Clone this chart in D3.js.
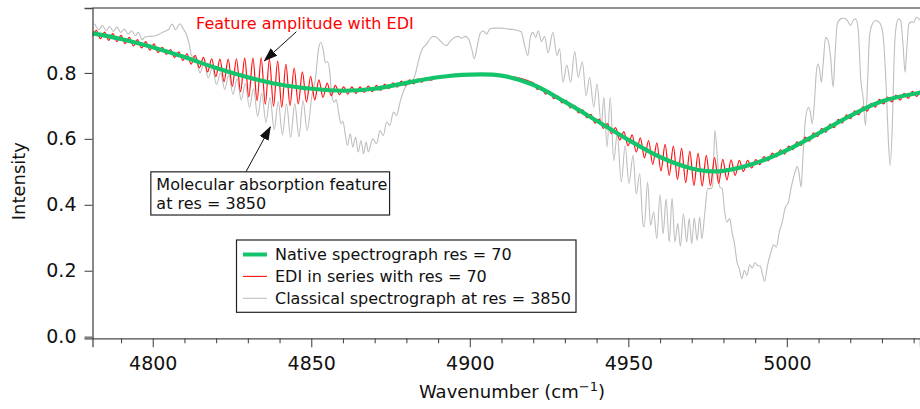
<!DOCTYPE html>
<html>
<head>
<meta charset="utf-8">
<script src="https://cdn.jsdelivr.net/npm/d3@7"></script>
<style>
  html, body { margin: 0; padding: 0; background: #fff; }
  svg { display: block; }
  text { font-family: "DejaVu Sans", Verdana, sans-serif; }
</style>
</head>
<body>
<svg id="chart" width="920" height="409"></svg>
<script>
// ---- data: [wavenumber (cm^-1), intensity] ----
const nativeRes = [
  [4781,0.920],[4790,0.903],[4800,0.878],[4810,0.848],[4820,0.815],[4830,0.787],
  [4840,0.765],[4850,0.752],[4860,0.746],[4870,0.752],[4880,0.770],[4890,0.787],
  [4900,0.795],[4910,0.792],[4920,0.764],[4930,0.712],[4940,0.655],[4950,0.597],
  [4960,0.545],[4970,0.510],[4975,0.502],[4980,0.503],[4990,0.526],[5000,0.566],
  [5010,0.617],[5020,0.670],[5030,0.714],[5042,0.740]
];

const ediSeries = [
  [4780.9,0.909],[4782.2,0.929],[4783.5,0.904],[4784.8,0.924],[4786.1,0.899],[4787.4,0.919],
  [4788.7,0.895],[4790.0,0.914],[4791.3,0.889],[4792.6,0.908],[4793.9,0.882],[4795.2,0.901],
  [4796.5,0.876],[4797.8,0.895],[4799.1,0.869],[4800.4,0.888],[4801.7,0.862],
  [4803.0,0.878],[4804.3,0.856],[4805.6,0.871],[4806.9,0.847],[4808.2,0.864],[4809.5,0.838],
  [4810.8,0.858],[4812.1,0.827],[4813.4,0.853],[4814.7,0.815],[4816.0,0.847],[4817.3,0.803],
  [4818.6,0.843],[4819.9,0.789],[4821.2,0.842],[4822.5,0.774],[4823.8,0.842],[4825.1,0.759],
  [4826.4,0.843],[4827.7,0.743],[4829.0,0.845],[4830.3,0.727],[4831.6,0.845],[4832.9,0.716],
  [4834.2,0.846],[4835.5,0.705],[4836.8,0.842],[4838.1,0.699],[4839.4,0.836],[4840.7,0.696],
  [4842.0,0.826],[4843.3,0.701],[4844.6,0.815],[4845.9,0.706],[4847.2,0.803],[4848.5,0.712],
  [4849.8,0.790],[4851.1,0.718],[4852.4,0.779],[4853.7,0.726],[4855.0,0.769],[4856.3,0.731],
  [4857.6,0.762],[4858.9,0.734],[4860.2,0.758],[4861.5,0.736],[4862.8,0.758],[4864.1,0.738],
  [4865.4,0.758],[4866.7,0.741],[4868.0,0.760],[4869.3,0.743],[4870.6,0.762],[4871.9,0.747],
  [4873.2,0.766],[4874.5,0.752],[4875.8,0.770],[4877.1,0.757],[4878.4,0.775],[4879.7,0.762],
  [4881.0,0.779],[4882.3,0.767],[4883.6,0.782],[4884.9,0.772],[4886.2,0.785],[4887.5,0.778],
  [4890,0.787],[4900,0.795],[4910,0.792],
  [4920.0,0.770],[4921.3,0.750],[4922.6,0.757],[4923.9,0.736],[4925.2,0.744],[4926.5,0.722],
  [4927.8,0.730],[4929.1,0.709],[4930.4,0.717],[4931.7,0.694],[4933.0,0.702],[4934.3,0.679],
  [4935.6,0.688],[4936.9,0.664],[4938.2,0.674],[4939.5,0.648],[4940.8,0.660],[4942.1,0.632],
  [4943.4,0.646],[4944.7,0.616],[4946.0,0.634],[4947.3,0.597],[4948.6,0.622],[4949.9,0.579],
  [4951.2,0.612],[4952.5,0.560],[4953.8,0.603],[4955.1,0.542],[4956.4,0.595],[4957.7,0.522],
  [4959.0,0.588],[4960.3,0.503],[4961.6,0.583],[4962.9,0.489],[4964.2,0.578],[4965.5,0.477],
  [4966.8,0.571],[4968.1,0.467],[4969.4,0.562],[4970.7,0.459],[4972.0,0.556],[4973.3,0.457],
  [4974.6,0.550],[4975.9,0.458],[4977.2,0.543],[4978.5,0.465],[4979.8,0.538],[4981.1,0.475],
  [4982.4,0.536],[4983.7,0.489],[4985.0,0.535],[4986.3,0.501],[4987.6,0.535],[4988.9,0.512],
  [4990.2,0.537],[4991.5,0.522],[4992.8,0.546],[4994.1,0.533],[4995.4,0.557],[4996.7,0.545],
  [4998.0,0.567],[4999.3,0.554],[5000.6,0.578],[5001.9,0.567],[5003.2,0.591],[5004.5,0.580],
  [5005.8,0.605],[5007.1,0.593],[5008.4,0.618],[5009.7,0.607],[5011.0,0.631],[5012.3,0.620],
  [5013.6,0.645],[5014.9,0.634],[5016.2,0.659],[5017.5,0.648],[5018.8,0.673],[5020.1,0.661],
  [5021.4,0.685],[5022.7,0.673],[5024.0,0.697],[5025.3,0.684],[5026.6,0.708],[5027.9,0.696],
  [5029.2,0.720],[5030.5,0.706],[5031.8,0.727],[5033.1,0.712],[5034.4,0.733],[5035.7,0.718],
  [5037.0,0.738],[5038.3,0.723],[5039.6,0.744],[5040.9,0.729],[5042.2,0.749]
];

const classicalSeries = [
  [4781.7,0.949],[4783.0,0.931],[4784.1,0.944],[4785.3,0.928],[4786.4,0.941],[4787.6,0.926],
  [4788.7,0.939],[4789.9,0.923],[4791.0,0.933],[4792.3,0.918],[4793.3,0.928],[4794.6,0.913],
  [4795.4,0.923],[4796.7,0.901],[4797.5,0.909],[4799.3,0.911],[4800.9,0.913],[4801.9,0.917],
  [4803.0,0.923],[4804.0,0.927],[4805.1,0.933],[4806.1,0.948],[4807.2,0.931],[4808.5,0.949],
  [4809.5,0.936],[4810.7,0.915],[4811.6,0.883],[4812.2,0.853],
  [4813.6,0.845],[4814.9,0.800],[4816.2,0.830],[4817.5,0.785],[4818.8,0.815],[4820.1,0.765],
  [4821.4,0.800],[4822.7,0.750],[4824.0,0.795],[4825.3,0.735],[4826.6,0.782],[4827.9,0.718],
  [4829.2,0.768],[4830.5,0.695],[4831.8,0.752],[4833.1,0.668],[4834.4,0.738],[4835.7,0.650],
  [4837.0,0.725],[4838.3,0.628],[4839.6,0.713],[4840.9,0.612],[4842.2,0.706],[4843.5,0.605],
  [4844.8,0.707],[4846.1,0.607],[4847.4,0.716],[4848.7,0.625],
  [4850.2,0.731],[4851.3,0.782],[4852.3,0.873],[4853.0,0.893],[4853.9,0.863],[4854.4,0.832],
  [4855.1,0.834],[4855.8,0.807],[4856.5,0.731],[4857.2,0.711],[4857.9,0.719],[4858.6,0.681],
  [4859.4,0.646],[4860.0,0.653],[4860.7,0.615],[4861.4,0.580],[4862.3,0.615],[4863.1,0.575],
  [4864.0,0.605],[4864.8,0.560],[4865.7,0.595],[4866.5,0.555],[4867.3,0.590],[4868.0,0.560],
  [4869.4,0.600],[4870.6,0.585],[4871.7,0.625],[4872.7,0.610],[4873.8,0.651],[4874.8,0.641],
  [4875.9,0.681],[4876.9,0.671],[4878.0,0.711],[4879.0,0.742],[4880.1,0.762],[4881.1,0.767],
  [4882.7,0.792],[4883.7,0.832],[4884.8,0.868],[4886.4,0.888],[4887.4,0.903],[4888.5,0.911],
  [4889.5,0.908],[4890.6,0.898],[4891.6,0.888],[4892.7,0.883],[4893.7,0.895],[4895.3,0.908],
  [4896.4,0.911],[4897.4,0.905],[4898.5,0.911],[4899.5,0.905],[4900.6,0.873],[4901.4,0.843],
  [4902.3,0.878],[4903.2,0.918],[4904.2,0.928],[4905.3,0.918],[4906.3,0.933],[4907.9,0.936],
  [4910.0,0.936],[4911.5,0.934],[4914.1,0.931],[4916.2,0.925],[4917.3,0.883],[4918.3,0.853],
  [4919.1,0.908],[4919.9,0.923],[4920.8,0.908],[4921.6,0.928],[4922.6,0.895],[4923.6,0.911],
  [4924.7,0.861],[4926.2,0.923],[4927.5,0.853],[4928.3,0.873],[4929.4,0.772],[4930.6,0.824],
  [4931.8,0.772],[4933.1,0.865],[4934.2,0.787],[4935.5,0.834],[4936.7,0.731],[4937.8,0.787],
  [4939.1,0.696],[4940.1,0.767],[4941.5,0.641],[4942.3,0.726],[4943.3,0.575],[4944.3,0.726],
  [4945.4,0.534],[4946.5,0.615],[4947.8,0.469],[4949.0,0.580],[4950.2,0.464],[4951.5,0.550],
  [4952.5,0.433],[4953.6,0.494],[4954.6,0.343],[4955.0,0.333],[4956.1,0.469],[4957.0,0.338],
  [4958.0,0.378],[4959.0,0.297],[4960.0,0.430],[4961.0,0.312],[4961.9,0.418],[4962.9,0.287],
  [4963.8,0.420],[4964.7,0.287],[4965.6,0.343],[4966.4,0.275],[4967.4,0.373],[4968.4,0.287],
  [4969.2,0.358],[4970.0,0.282],[4970.8,0.360],[4971.7,0.292],[4972.5,0.363],[4973.2,0.297],
  [4974.1,0.373],[4975.0,0.449],[4976.1,0.449],[4976.6,0.459],[4977.3,0.625],[4978.1,0.540],
  [4978.8,0.454],[4979.6,0.449],[4980.4,0.378],[4981.1,0.348],[4982.0,0.358],[4982.7,0.317],
  [4983.4,0.287],[4984.3,0.226],[4985.0,0.206],[4985.8,0.176],[4986.6,0.201],[4987.4,0.186],
  [4988.3,0.218],[4989.1,0.208],[4989.9,0.224],[4990.8,0.216],[4991.6,0.214],[4992.4,0.186],
  [4993.0,0.168],[4993.9,0.216],[4995.0,0.257],[4995.8,0.279],[4996.7,0.272],[4997.6,0.317],
  [4998.6,0.350],[4999.4,0.388],[5000.5,0.408],[5001.5,0.459],[5002.6,0.499],[5003.3,0.517],
  [5003.8,0.499],[5004.5,0.454],[5005.1,0.550],[5005.9,0.661],[5006.8,0.696],[5007.4,0.681],
  [5008.0,0.646],[5008.7,0.711],[5009.3,0.802],[5009.8,0.827],[5010.3,0.812],[5010.9,0.772],
  [5011.5,0.832],[5012.2,0.908],[5013.0,0.898],[5013.8,0.848],[5014.6,0.757],[5015.2,0.853],
  [5015.9,0.949],[5017.0,0.964],[5018.0,0.966],[5019.1,0.959],[5020.1,0.944],[5020.9,0.959],
  [5021.7,0.964],[5022.5,0.933],[5023.3,0.782],[5024.1,0.721],[5024.8,0.641],[5025.5,0.782],
  [5026.1,0.913],[5027.0,0.949],[5028.0,0.959],[5029.1,0.954],[5029.9,0.939],[5030.6,0.888],
  [5031.4,0.742],[5032.0,0.600],[5032.6,0.519],[5033.3,0.651],[5033.8,0.832],[5034.3,0.928],
  [5035.2,0.964],[5035.9,0.959],[5036.6,0.893],[5037.3,0.802],[5037.9,0.883],[5038.5,0.949],
  [5039.4,0.955],[5040.1,0.954],[5040.8,0.969],[5041.7,0.964],[5042.1,0.959]
];

const xMajorTicks = [4800, 4850, 4900, 4950, 5000];
const xMinorTicks = [4790, 4810, 4820, 4830, 4840, 4860, 4870, 4880, 4890, 4910, 4920,
                     4930, 4940, 4960, 4970, 4980, 4990, 5010, 5020, 5030, 5040];
const yTicks = [0, 0.2, 0.4, 0.6, 0.8];

const legendLabels = [
  "Native spectrograph res = 70",
  "EDI in series with res = 70",
  "Classical spectrograph at res = 3850"
];
const calloutTitle = "Feature amplitude with EDI";
const calloutLines = ["Molecular absorption feature", "at res = 3850"];

// ---- layout ----
const plot = { left: 92.5, right: 920, top: 8, bottom: 338.3 };
const colors = { native: "#14c46d", edi: "#ff1010", classical: "#bebebe", axis: "#4a4a4a" };

const svg = d3.select("#chart");

const x = d3.scaleLinear().domain([4781, 5042]).range([plot.left, plot.right]);
const y = d3.scaleLinear().domain([-0.005, 0.997]).range([plot.bottom, plot.top]);

const defs = svg.append("defs");
defs.append("clipPath").attr("id", "plotClip")
  .append("rect")
  .attr("x", plot.left).attr("y", plot.top)
  .attr("width", plot.right - plot.left).attr("height", plot.bottom - plot.top);

// ---- spectra ----
const lines = svg.append("g").attr("clip-path", "url(#plotClip)");

const lineGen = (curve) => d3.line().x(d => x(d[0])).y(d => y(d[1])).curve(curve);

lines.append("path").datum(classicalSeries)
  .attr("fill", "none").attr("stroke", colors.classical).attr("stroke-width", 1.1)
  .attr("stroke-linejoin", "round")
  .attr("d", lineGen(d3.curveMonotoneX));

lines.append("path").datum(ediSeries)
  .attr("fill", "none").attr("stroke", colors.edi).attr("stroke-width", 1.2)
  .attr("stroke-linejoin", "round")
  .attr("d", lineGen(d3.curveMonotoneX));

lines.append("path").datum(nativeRes)
  .attr("fill", "none").attr("stroke", colors.native).attr("stroke-width", 4.2)
  .attr("stroke-linecap", "round")
  .attr("d", lineGen(d3.curveCatmullRom.alpha(0.5)));

// ---- frame and axes ----
svg.append("line")
  .attr("x1", plot.left).attr("x2", plot.right)
  .attr("y1", plot.top).attr("y2", plot.top)
  .attr("stroke", "#6e6e6e").attr("stroke-width", 1.3);

const xAxisMajor = d3.axisBottom(x).tickValues(xMajorTicks).tickSize(9).tickPadding(9)
  .tickFormat(d3.format("d"));
const xAxisMinor = d3.axisBottom(x).tickValues(xMinorTicks).tickSize(5).tickFormat("");
const yAxis = d3.axisLeft(y).tickValues(yTicks).tickSize(8).tickPadding(8)
  .tickFormat(d3.format(".1f"));

const gxMinor = svg.append("g").attr("transform", `translate(0,${plot.bottom})`).call(xAxisMinor);
const gx = svg.append("g").attr("transform", `translate(0,${plot.bottom})`).call(xAxisMajor);
const gy = svg.append("g").attr("transform", `translate(${plot.left},0)`).call(yAxis);

[gx, gxMinor, gy].forEach(g => {
  g.attr("font-size", null).attr("font-family", null);
  g.select(".domain").attr("stroke", colors.axis).attr("stroke-width", 1.3);
  g.selectAll(".tick line").attr("stroke", colors.axis).attr("stroke-width", 1.1);
  g.selectAll(".tick text")
    .attr("fill", "#111")
    .style("font-family", "'DejaVu Sans', Verdana, sans-serif")
    .style("font-size", "19px");
});
gxMinor.select(".domain").remove();

// axis titles
svg.append("text")
  .attr("transform", `translate(25,${(plot.top + plot.bottom) / 2 + 8}) rotate(-90)`)
  .attr("text-anchor", "middle")
  .attr("fill", "#111")
  .style("font-size", "18px")
  .text("Intensity");

const xTitle = svg.append("text")
  .attr("x", 512).attr("y", 398)
  .attr("text-anchor", "middle")
  .attr("fill", "#111")
  .style("font-size", "18px");
xTitle.append("tspan").text("Wavenumber (cm");
xTitle.append("tspan").attr("dy", -7).style("font-size", "13px").text("\u22121");
xTitle.append("tspan").attr("dy", 7).text(")");

// ---- annotations (anchored in data units) ----
defs.append("marker")
  .attr("id", "arrowHead")
  .attr("markerUnits", "userSpaceOnUse")
  .attr("markerWidth", 14).attr("markerHeight", 10)
  .attr("refX", 13).attr("refY", 5)
  .attr("orient", "auto")
  .append("path").attr("d", "M0,0 L14,5 L0,10 Z").attr("fill", "#111");

const ediArrow = { from: [4845.3, 0.925], to: [4835.2, 0.837] };
const bandArrow = { from: [4829.4, 0.500], to: [4837.1, 0.636] };

[ediArrow, bandArrow].forEach(a => {
  svg.append("line")
    .attr("x1", x(a.from[0])).attr("y1", y(a.from[1]))
    .attr("x2", x(a.to[0])).attr("y2", y(a.to[1]))
    .attr("stroke", "#111").attr("stroke-width", 1)
    .attr("marker-end", "url(#arrowHead)");
});

svg.append("text")
  .attr("x", x(4848.0)).attr("y", y(0.934))
  .attr("text-anchor", "middle")
  .attr("fill", "#ff0000")
  .style("font-size", "16px")
  .text(calloutTitle);

const box = { x0: 4799.4, x1: 4874.7, y0: 0.500, y1: 0.369 };
svg.append("rect")
  .attr("x", x(box.x0)).attr("y", y(box.y0))
  .attr("width", x(box.x1) - x(box.x0)).attr("height", y(box.y1) - y(box.y0))
  .attr("fill", "#fff").attr("stroke", "#222").attr("stroke-width", 1.2);
calloutLines.forEach((t, i) => {
  svg.append("text")
    .attr("x", x(box.x0) + 5.5).attr("y", y(box.y0) + 18.5 + i * 18.5)
    .attr("fill", "#111")
    .style("font-size", "16px")
    .text(t);
});

// ---- legend ----
const legend = svg.append("g").attr("transform", "translate(236.5,240)");
legend.append("rect")
  .attr("width", 339.5).attr("height", 72.3)
  .attr("fill", "#fff").attr("stroke", "#222").attr("stroke-width", 1.2);
const legendStyles = [
  { color: colors.native, width: 4 },
  { color: colors.edi, width: 1.1 },
  { color: colors.classical, width: 1.1 }
];
legendLabels.forEach((label, i) => {
  const cy = 14.5 + i * 21.9;
  legend.append("line")
    .attr("x1", 6.5).attr("x2", 30.5).attr("y1", cy).attr("y2", cy)
    .attr("stroke", legendStyles[i].color).attr("stroke-width", legendStyles[i].width);
  legend.append("text")
    .attr("x", 38.5).attr("y", cy + 5.8)
    .attr("fill", "#111")
    .style("font-size", "16px")
    .text(label);
});
</script>
</body>
</html>
